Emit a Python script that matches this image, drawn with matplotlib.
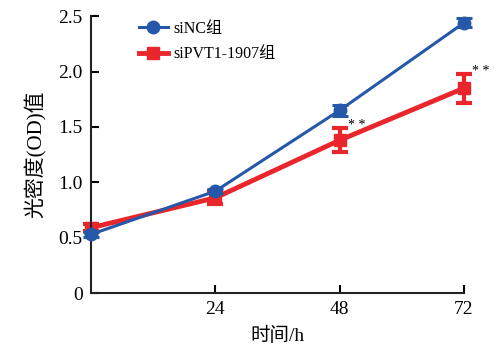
import matplotlib
matplotlib.use("Agg")
import matplotlib.pyplot as plt
from matplotlib.lines import Line2D

plt.rcParams["font.family"] = ["Liberation Serif", "Noto Sans CJK SC"]

times = [0, 24, 48, 72]
nc_mean = [0.53, 0.92, 1.65, 2.44]
nc_err = [0.02, 0.02, 0.05, 0.04]
kd_mean = [0.59, 0.86, 1.38, 1.85]
kd_err = [0.03, 0.06, 0.11, 0.13]
sig_times = [48, 72]
sig_labels = ["* *", "* *"]

BLUE = "#2558a8"
RED = "#e8262b"

fig = plt.figure(figsize=(4.96, 3.51), dpi=100)
ax = fig.add_axes([0.1835, 0.165, 0.752, 0.789])

ax.errorbar(times, kd_mean, yerr=kd_err, color=RED, lw=3.5, marker="s", ms=9,
            elinewidth=3, capsize=6, capthick=3, zorder=2, clip_on=False)
ax.errorbar(times, nc_mean, yerr=nc_err, color=BLUE, lw=2.2, marker="o", ms=9,
            elinewidth=2.2, capsize=6, capthick=2.2, zorder=3, clip_on=False)

# significance marks above the knockdown error bars
for t, lab in zip(sig_times, sig_labels):
    i = times.index(t)
    ax.annotate(lab, (t, kd_mean[i] + kd_err[i]), xytext=(6, -3),
                textcoords="offset points", fontsize=10, ha="left", va="bottom")

ax.set_xlim(0, 72)
ax.set_ylim(0, 2.5)
ax.set_xticks([24, 48, 72])
ax.set_yticks([0, 0.5, 1.0, 1.5, 2.0, 2.5])
ax.set_yticklabels(["0", "0.5", "1.0", "1.5", "2.0", "2.5"])
ax.tick_params(direction="in", length=6, width=1.5, labelsize=14, pad=6)
for s in ["top", "right"]:
    ax.spines[s].set_visible(False)
for s in ["left", "bottom"]:
    ax.spines[s].set_linewidth(1.5)
    ax.spines[s].set_color("#222222")

ax.set_xlabel("时间/h", fontsize=14, labelpad=6)
ax.set_ylabel("光密度(OD)值", fontsize=15, labelpad=8)

handles = [
    Line2D([], [], color=BLUE, lw=2.2, marker="o", ms=9),
    Line2D([], [], color=RED, lw=3.5, marker="s", ms=9),
]
ax.legend(handles, ["siNC组", "siPVT1-1907组"], loc="upper left",
          bbox_to_anchor=(0.09, 1.035), frameon=False, fontsize=11.5,
          handlelength=1.8, handletextpad=0.35, labelspacing=0.6)

fig.savefig("out.png", dpi=100)
